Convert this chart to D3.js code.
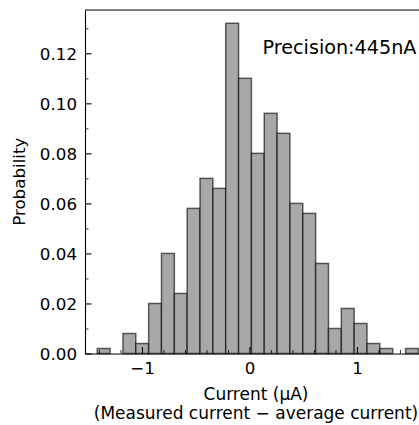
<!DOCTYPE html>
<html>
<head>
<meta charset="utf-8">
<script src="https://cdn.jsdelivr.net/npm/d3@7"></script>
<style>
  html, body { margin: 0; padding: 0; background: #fff; }
  svg { display: block; font-family: "DejaVu Sans", sans-serif; }
</style>
</head>
<body>
<script>
// ---- data ----
const binEdges = [-1.416, -1.2965, -1.177, -1.0575, -0.938, -0.8185, -0.699, -0.5795,
  -0.460, -0.3405, -0.221, -0.1015, 0.018, 0.1375, 0.257, 0.3765, 0.496, 0.6155,
  0.735, 0.8545, 0.974, 1.0935, 1.213, 1.3325, 1.452, 1.5715];
const probabilities = [0.002, 0.000, 0.008, 0.004, 0.020, 0.040, 0.024, 0.058,
  0.070, 0.066, 0.132, 0.110, 0.080, 0.096, 0.088, 0.060, 0.056, 0.036,
  0.010, 0.018, 0.012, 0.004, 0.002, 0.000, 0.002];
const xMajorTicks = [-1, 0, 1];
const xMinorTicks = [-1.4, -1.2, -0.8, -0.6, -0.4, -0.2, 0.2, 0.4, 0.6, 0.8, 1.2, 1.4, 1.6];
const yMajorTicks = [0.00, 0.02, 0.04, 0.06, 0.08, 0.10, 0.12];
const yMinorTicks = [0.01, 0.03, 0.05, 0.07, 0.09, 0.11, 0.13];
const xDomain = [-1.53, 1.6514];
const yDomain = [0, 0.1373];
const annotation = "Precision:445nA";
const xLabel1 = "Current (μA)";
const xLabel2 = "(Measured current − average current)";
const yLabel = "Probability";

// ---- layout ----
const W = 419, H = 425;
const mLeft = 85, mTop = 10, mBottom = 353.5, mRight = 427;
const fs = 16.7;

const svg = d3.select("body").append("svg").attr("width", W).attr("height", H);

const x = d3.scaleLinear().domain(xDomain).range([mLeft, mRight]);
const y = d3.scaleLinear().domain(yDomain).range([mBottom, mTop]);

const bins = probabilities.map((p, i) => ({x0: binEdges[i], x1: binEdges[i + 1], p}));

svg.append("g").selectAll("rect").data(bins.filter(d => d.p > 0)).join("rect")
  .attr("x", d => x(d.x0))
  .attr("y", d => y(d.p))
  .attr("width", d => x(d.x1) - x(d.x0))
  .attr("height", d => y(0) - y(d.p))
  .attr("fill", "#a8a8a8")
  .attr("stroke", "#000")
  .attr("stroke-opacity", 0.6)
  .attr("stroke-width", 1.5);

// minor ticks
svg.append("g").attr("transform", `translate(0,${mBottom})`)
  .call(d3.axisBottom(x).tickValues(xMinorTicks).tickSize(-3.5).tickFormat(""))
  .call(g => g.select(".domain").remove())
  .call(g => g.selectAll("line").attr("stroke-width", 0.8));
svg.append("g").attr("transform", `translate(${mLeft},0)`)
  .call(d3.axisLeft(y).tickValues(yMinorTicks).tickSize(-3.5).tickFormat(""))
  .call(g => g.select(".domain").remove())
  .call(g => g.selectAll("line").attr("stroke-width", 0.8));

// major axes
const xAxis = svg.append("g").attr("transform", `translate(0,${mBottom})`)
  .call(d3.axisBottom(x).tickValues(xMajorTicks).tickSize(-6.5).tickSizeOuter(0)
    .tickPadding(5).tickFormat(d3.format("d")));
xAxis.selectAll("text").attr("dy", null).attr("y", 20.5)
  .attr("font-size", fs).attr("font-family", "DejaVu Sans").attr("fill", "#000");
xAxis.selectAll("line").attr("stroke-width", 1.1);
xAxis.select(".domain").attr("stroke-width", 1.1);

const yAxis = svg.append("g").attr("transform", `translate(${mLeft},0)`)
  .call(d3.axisLeft(y).tickValues(yMajorTicks).tickSize(-6.5).tickSizeOuter(0)
    .tickPadding(8).tickFormat(d3.format(".2f")));
yAxis.selectAll("text").attr("dy", "0.36em")
  .attr("font-size", fs).attr("font-family", "DejaVu Sans").attr("fill", "#000");
yAxis.selectAll("line").attr("stroke-width", 1.1);
yAxis.select(".domain").attr("stroke-width", 1.1);

// top / right spines
svg.append("line").attr("x1", mLeft).attr("x2", mRight).attr("y1", mTop).attr("y2", mTop)
  .attr("stroke", "#000").attr("stroke-width", 1.1);
svg.append("line").attr("x1", mRight).attr("x2", mRight).attr("y1", mTop).attr("y2", mBottom)
  .attr("stroke", "#000").attr("stroke-width", 1.1);

// labels
const cx = (mLeft + mRight) / 2;
svg.append("text").attr("x", cx).attr("y", 400).attr("text-anchor", "middle")
  .attr("font-size", 17).text(xLabel1);
svg.append("text").attr("x", cx).attr("y", 419).attr("text-anchor", "middle")
  .attr("font-size", 17).text(xLabel2);
svg.append("text")
  .attr("transform", `translate(24.5,${(mTop + mBottom) / 2}) rotate(-90)`)
  .attr("text-anchor", "middle").attr("font-size", fs).text(yLabel);

svg.append("text").attr("x", 262.5).attr("y", 53.5)
  .attr("font-size", 19.2).text(annotation);
</script>
</body>
</html>
